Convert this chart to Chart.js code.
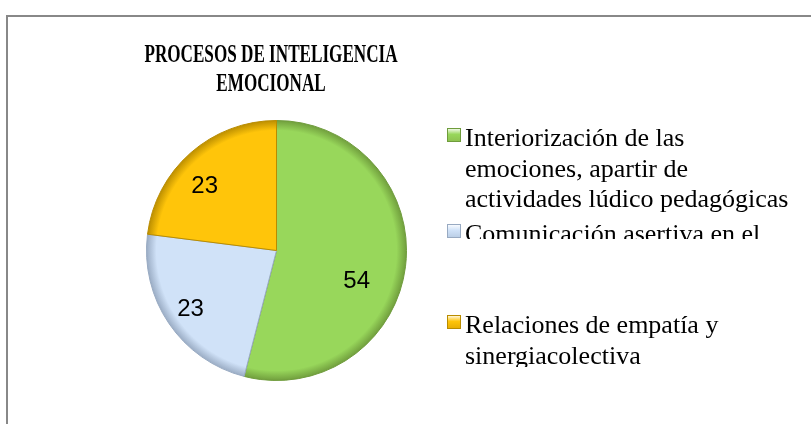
<!DOCTYPE html>
<html>
<head>
<meta charset="utf-8">
<script src="https://cdn.jsdelivr.net/npm/chart.js@4.4.0/dist/chart.umd.min.js"></script>
<style>
    html, body { margin: 0; padding: 0; background: #ffffff; }
    #wrap { position: relative; width: 811px; height: 424px; }
    #frame {
        position: absolute; left: 6px; top: 15px; right: -4px; bottom: -4px;
        border-left: 2px solid #888888; border-top: 2px solid #888888;
    }
    canvas { position: absolute; left: 0; top: 0; }
</style>
</head>
<body>
<div id="wrap">
    <div id="frame"></div>
    <canvas id="pieChart" width="811" height="424"></canvas>
</div>
<script>
// ======================================
// Data
// ======================================

const titleLines = ["PROCESOS DE INTELIGENCIA", "EMOCIONAL"];

const categories = [
    ["Interiorización de las", "emociones, apartir de", "actividades lúdico pedagógicas"],
    ["Comunicación asertiva en el"],
    ["Relaciones de empatía y", "sinergiacolectiva"]
];

const values = [54, 23, 23];

const sliceColors = ["#98d75b", "#d0e2f8", "#ffc50a"];
const edgeColors = ["#6f9c3c", "#98aac2", "#b98c00"];
const boxColors = ["#8dc04f", "#b8cce4", "#e6ac00"];

// ======================================
// Custom text: title, value labels, legend
// ======================================

const textPlugin = {

    id: "textPlugin",

    afterDraw(chart) {

        const ctx = chart.ctx;

        // title (condensed bold serif)
        ctx.save();
        ctx.fillStyle = "#000000";
        ctx.font = "bold 25px 'Liberation Serif', 'Times New Roman', serif";
        ctx.textAlign = "center";
        ctx.textBaseline = "alphabetic";
        [62, 91].forEach((y, i) => {
            ctx.save();
            ctx.translate(271, y);
            ctx.scale(0.685, 1);
            ctx.fillText(titleLines[i], 0, 0);
            ctx.restore();
        });
        ctx.restore();

        // value labels
        const meta = chart.getDatasetMeta(0);
        const nudges = [0.24, 0, -0.12];
        const fracs = [0.66, 0.8, 0.74];
        ctx.save();
        ctx.font = "24px 'Liberation Sans', Arial, sans-serif";
        ctx.fillStyle = "#000000";
        ctx.textAlign = "center";
        ctx.textBaseline = "middle";
        meta.data.forEach((arc, i) => {
            const p = arc.getProps(["x", "y", "startAngle", "endAngle", "outerRadius"], true);
            const a = (p.startAngle + p.endAngle) / 2 + nudges[i];
            const r = p.outerRadius * fracs[i];
            ctx.fillText(String(values[i]), p.x + Math.cos(a) * r, p.y + Math.sin(a) * r);
        });
        ctx.restore();

        // legend
        const baselines = [146, 242, 333];
        const clipBottom = [424, 239, 367];
        ctx.save();
        ctx.font = "26px 'Liberation Serif', 'Times New Roman', serif";
        ctx.textAlign = "left";
        ctx.textBaseline = "alphabetic";
        categories.forEach((lines, i) => {
            const top = baselines[i] - 18;
            ctx.save();
            ctx.beginPath();
            ctx.rect(430, top - 12, 381, clipBottom[i] - top + 12);
            ctx.clip();

            const g = ctx.createLinearGradient(0, top, 0, top + 14);
            g.addColorStop(0, "#ffffff");
            g.addColorStop(0.45, sliceColors[i]);
            g.addColorStop(1, boxColors[i]);
            ctx.fillStyle = g;
            ctx.fillRect(447, top, 14, 14);
            ctx.strokeStyle = edgeColors[i];
            ctx.lineWidth = 1;
            ctx.strokeRect(447.5, top + 0.5, 13, 13);

            ctx.fillStyle = "#000000";
            lines.forEach((line, j) => {
                ctx.fillText(line, 465, baselines[i] + j * 30.5);
            });
            ctx.restore();
        });
        ctx.restore();
    }
};

// ======================================
// Chart
// ======================================

function sliceFill(context) {

    const chart = context.chart;
    const area = chart.chartArea;
    const i = context.dataIndex;

    if (!area) {
        return sliceColors[i];
    }

    const cx = (area.left + area.right) / 2;
    const cy = (area.top + area.bottom) / 2;
    const r = Math.min(area.width, area.height) / 2;
    const g = chart.ctx.createRadialGradient(cx, cy, 0, cx, cy, r);

    g.addColorStop(0, sliceColors[i]);
    g.addColorStop(0.92, sliceColors[i]);
    g.addColorStop(1, edgeColors[i]);

    return g;
}

const ctx = document
    .getElementById("pieChart")
    .getContext("2d");

new Chart(ctx, {

    type: "pie",

    data: {

        labels: categories,

        datasets: [{

            data: values,

            backgroundColor: sliceFill,

            borderColor: edgeColors,

            borderWidth: 1

        }]
    },

    options: {

        responsive: false,

        animation: false,

        layout: {

            padding: {
                left: 146,
                top: 120,
                right: 404,
                bottom: 43
            }

        },

        plugins: {

            legend: { display: false },

            title: { display: false },

            tooltip: { enabled: false }

        }

    },

    plugins: [textPlugin]

});
</script>
</body>
</html>
